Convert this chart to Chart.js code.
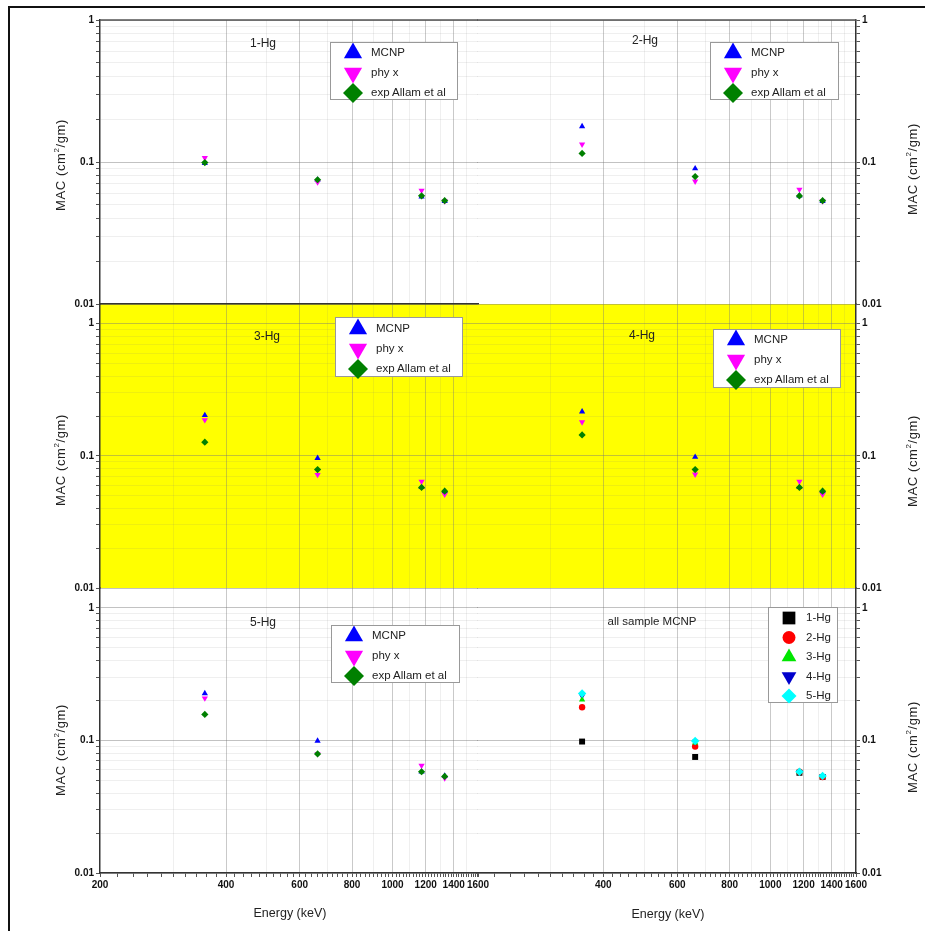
<!DOCTYPE html>
<html>
<head>
<meta charset="utf-8">
<title>MAC vs Energy - Hg samples</title>
<script src="https://cdn.jsdelivr.net/npm/chart.js@4.4.1/dist/chart.umd.min.js"></script>
<style>
  html, body { margin: 0; background: #fff; }
  #fig { position: relative; width: 925px; height: 931px; overflow: hidden;
         font-family: 'Liberation Sans', Arial, sans-serif; color: #222; }
  #fig canvas.panel { position: absolute; }
  .frame-top { position: absolute; left: 8px; top: 6px; width: 917px; height: 2px; background: #111; }
  .frame-left { position: absolute; left: 8px; top: 6px; width: 2px; height: 925px; background: #111; }
  .txt { position: absolute; z-index: 5; white-space: nowrap; transform: translate(-50%, -50%); }
  .ytitle { position: absolute; z-index: 5; white-space: nowrap; font-size: 13px; letter-spacing: 0.6px;
            transform: translate(-50%, -50%) rotate(-90deg); }
  .ytitle sup { font-size: 8px; }
  .leg { position: absolute; z-index: 6; background: #fff; border: 1px solid #999; box-sizing: border-box; }
  .leg canvas { position: absolute; left: 0; top: 0; }
  .leg span { position: absolute; font-size: 11.5px; line-height: 1; transform: translateY(-50%); white-space: nowrap; }
</style>
</head>
<body>
<div id="fig">
  <div class="frame-top"></div>
  <div class="frame-left"></div>
</div>
<script>
// gamma energies (keV)
const energies = [356, 662, 1173, 1332];
const sampleNames = ['1-Hg', '2-Hg', '3-Hg', '4-Hg', '5-Hg'];
const seriesNames = ['MCNP', 'phy x', 'exp Allam et al'];

// MAC (cm2/gm), one row per sample
const mcnpValues = [
  [0.098, 0.075, 0.057, 0.053],
  [0.178, 0.090, 0.058, 0.053],
  [0.203, 0.096, 0.058, 0.054],
  [0.216, 0.098, 0.058, 0.054],
  [0.226, 0.099, 0.058, 0.054]
];
const phyxValues = [
  [0.107, 0.072, 0.063, 0.053],
  [0.133, 0.073, 0.064, 0.053],
  [0.187, 0.072, 0.064, 0.051],
  [0.180, 0.0725, 0.064, 0.051],
  [0.208, 0.079, 0.0645, 0.052]
];
const expValues = [
  [0.099, 0.075, 0.0578, 0.0534],
  [0.115, 0.079, 0.0577, 0.0534],
  [0.127, 0.0787, 0.0576, 0.054],
  [0.144, 0.0787, 0.0576, 0.054],
  [0.157, 0.079, 0.058, 0.0535]
];

const xTickLabels = [200, 400, 600, 800, 1000, 1200, 1400, 1600];
const yTickLabels = [0.01, 0.1, 1];

const fig = document.getElementById('fig');
const FONT = "'Liberation Sans', Arial, sans-serif";

// minor ticks: every 20 keV on x, 1..9 per decade on y
const xTickValues = [];
for (let v = 200; v <= 1600; v += 20) xTickValues.push(v);
const yTickValues = [];
yTickLabels.slice(0, -1).forEach(d => { for (let k = 1; k <= 9; k++) yTickValues.push(k * d); });
yTickValues.push(yTickLabels[yTickLabels.length - 1]);

const isPow10 = v => Math.abs(Math.log10(v) - Math.round(Math.log10(v))) < 1e-6;

const cols = [{ l: 100, r: 478 }, { l: 477, r: 856 }];
const rows = [
  { t: 20, b: 304, max: 1, z: 3 },
  { t: 304, b: 588, max: 1.41, z: 1 },
  { t: 588, b: 873, max: 1.41, z: 2 }
];

const panelDecor = {
  id: 'panelDecor',
  beforeDraw(chart, args, opts) {
    if (!opts.fill) return;
    const a = chart.chartArea, ctx = chart.ctx;
    ctx.save();
    ctx.fillStyle = opts.fill;
    ctx.fillRect(a.left, a.top, a.right - a.left, a.bottom - a.top);
    ctx.restore();
  },
  afterDraw(chart, args, opts) {
    if (!opts.topLine) return;
    const a = chart.chartArea, ctx = chart.ctx;
    ctx.save();
    ctx.strokeStyle = opts.topLine;
    ctx.lineWidth = 1.5;
    ctx.beginPath();
    ctx.moveTo(a.left, a.top);
    ctx.lineTo(a.right, a.top);
    ctx.stroke();
    ctx.restore();
  }
};

function toPoints(vals) {
  return vals.map((y, i) => ({ x: energies[i], y }));
}

function makePanel(col, row, datasets, fill) {
  const c = cols[col], r = rows[row];
  const isLeft = col === 0, isBottom = row === 2;
  const AX = 50, PAD = 20, TOP = 12, AB = isBottom ? 30 : 10;
  const canvas = document.createElement('canvas');
  canvas.className = 'panel';
  canvas.width = (c.r - c.l) + AX + PAD;
  canvas.height = (r.b - r.t) + TOP + AB;
  canvas.style.left = (isLeft ? c.l - AX : c.l - PAD) + 'px';
  canvas.style.top = (r.t - TOP) + 'px';
  canvas.style.zIndex = r.z;
  fig.appendChild(canvas);

  new Chart(canvas, {
    type: 'scatter',
    data: { datasets },
    options: {
      responsive: false,
      animation: false,
      devicePixelRatio: 1,
      layout: { padding: { left: isLeft ? 0 : PAD, right: isLeft ? PAD : 0, top: TOP, bottom: 0 } },
      plugins: {
        legend: { display: false },
        tooltip: { enabled: false },
        panelDecor: { fill, topLine: row === 0 ? '#555' : null }
      },
      scales: {
        x: {
          type: 'logarithmic',
          min: 200,
          max: 1600,
          afterBuildTicks: s => { s.ticks = xTickValues.map(v => ({ value: v })); },
          afterFit: s => { s.height = AB; },
          ticks: {
            display: isBottom,
            autoSkip: false,
            maxRotation: 0,
            padding: 2,
            color: '#111',
            font: { family: FONT, size: 10, weight: 'bold' },
            callback: v => (xTickLabels.includes(v) && !(col === 1 && v === 200)) ? String(v) : ''
          },
          grid: {
            drawTicks: isBottom,
            tickLength: 4,
            tickColor: '#555',
            color: ctx => {
              const v = ctx.tick ? ctx.tick.value : 0;
              if (v === 200 || v === 1600) return 'rgba(0,0,0,0)';
              if (v % 200 === 0) return 'rgba(120,120,120,0.4)';
              if (v % 100 === 0) return 'rgba(120,120,120,0.12)';
              return 'rgba(0,0,0,0)';
            }
          },
          border: { display: row === 2 || (row === 0 && col === 0), color: '#333', width: 1.5 }
        },
        y: {
          type: 'logarithmic',
          position: isLeft ? 'left' : 'right',
          min: 0.01,
          max: r.max,
          afterBuildTicks: s => { s.ticks = yTickValues.map(v => ({ value: v })); },
          afterFit: s => { s.width = AX; },
          ticks: {
            autoSkip: false,
            padding: 2,
            color: '#111',
            font: { family: FONT, size: 10, weight: 'bold' },
            callback: v => {
              const t = yTickLabels.find(t => Math.abs(v / t - 1) < 1e-6);
              return t !== undefined ? String(t) : '';
            }
          },
          grid: {
            tickLength: 4,
            tickColor: '#555',
            color: ctx => (ctx.tick && isPow10(ctx.tick.value)) ? 'rgba(120,120,120,0.45)' : 'rgba(120,120,120,0.12)'
          },
          border: { color: '#333', width: 1.5 }
        }
      }
    },
    plugins: [panelDecor]
  });
}

// --- legends (HTML box, markers drawn with Chart.js point helper) ---
function addLegend(box, items, markerX, textX, rowY, rowH) {
  const d = document.createElement('div');
  d.className = 'leg';
  Object.assign(d.style, { left: box[0] + 'px', top: box[1] + 'px', width: box[2] + 'px', height: box[3] + 'px' });
  const cv = document.createElement('canvas');
  cv.width = box[2];
  cv.height = box[3] + 12;
  d.appendChild(cv);
  const ctx = cv.getContext('2d');
  items.forEach((it, i) => {
    const y = rowY + i * rowH;
    ctx.fillStyle = it.color;
    Chart.helpers.drawPoint(ctx, { pointStyle: it.style, rotation: it.rotation || 0, radius: it.radius, borderWidth: 0 }, markerX, y);
    const s = document.createElement('span');
    s.textContent = it.label;
    s.style.left = textX + 'px';
    s.style.top = y + 'px';
    d.appendChild(s);
  });
  fig.appendChild(d);
}

function addText(text, x, y, size) {
  const t = document.createElement('div');
  t.className = 'txt';
  t.textContent = text;
  t.style.left = x + 'px';
  t.style.top = y + 'px';
  t.style.fontSize = size + 'px';
  fig.appendChild(t);
}

function addYTitle(x, y) {
  const t = document.createElement('div');
  t.className = 'ytitle';
  t.innerHTML = 'MAC (cm<sup>2</sup>/gm)';
  t.style.left = x + 'px';
  t.style.top = y + 'px';
  fig.appendChild(t);
}

const seriesStyle = [
  { color: '#0000ff', style: 'triangle', rotation: 0, order: 3 },
  { color: '#ff00ff', style: 'triangle', rotation: 180, order: 2 },
  { color: '#008000', style: 'rectRot', rotation: 0, order: 1 }
];
const sampleStyle = [
  { color: '#000000', style: 'rect', radius: 4.2, order: 5, legR: 9 },
  { color: '#ff0000', style: 'circle', radius: 3.2, order: 4, legR: 6.5 },
  { color: '#00e600', style: 'triangle', radius: 3.6, order: 2, legR: 8.5 },
  { color: '#0000cc', style: 'triangle', radius: 3.6, rotation: 180, order: 3, legR: 8.5 },
  { color: '#00ffff', style: 'rectRot', radius: 4.2, order: 1, legR: 7.5 }
];

function sampleDatasets(i) {
  const vals = [mcnpValues[i], phyxValues[i], expValues[i]];
  return seriesNames.map((name, k) => ({
    label: name,
    data: toPoints(vals[k]),
    showLine: false,
    pointStyle: seriesStyle[k].style,
    pointRotation: seriesStyle[k].rotation,
    pointRadius: 3.6,
    pointBackgroundColor: seriesStyle[k].color,
    pointBorderColor: seriesStyle[k].color,
    pointBorderWidth: 0,
    order: seriesStyle[k].order
  }));
}

const allDatasets = sampleNames.map((name, i) => ({
  label: name,
  data: toPoints(mcnpValues[i]),
  showLine: false,
  pointStyle: sampleStyle[i].style,
  pointRotation: sampleStyle[i].rotation || 0,
  pointRadius: sampleStyle[i].radius,
  pointBackgroundColor: sampleStyle[i].color,
  pointBorderColor: sampleStyle[i].color,
  pointBorderWidth: 0,
  order: sampleStyle[i].order
}));

// panels: 1..5 samples, then all-sample MCNP
makePanel(0, 0, sampleDatasets(0), null);
makePanel(1, 0, sampleDatasets(1), null);
makePanel(0, 1, sampleDatasets(2), '#ffff00');
makePanel(1, 1, sampleDatasets(3), '#ffff00');
makePanel(0, 2, sampleDatasets(4), null);
makePanel(1, 2, allDatasets, null);

const seriesLegend = seriesNames.map((n, k) => ({
  label: n, color: seriesStyle[k].color, style: seriesStyle[k].style,
  rotation: seriesStyle[k].rotation, radius: seriesStyle[k].style === 'rectRot' ? 10 : 10.5
}));
addLegend([330, 42, 128, 58], seriesLegend, 22, 40, 10, 20);
addLegend([710, 42, 129, 58], seriesLegend, 22, 40, 10, 20);
addLegend([335, 317, 128, 60], seriesLegend, 22, 40, 11, 20);
addLegend([713, 329, 128, 59], seriesLegend, 22, 40, 10, 20);
addLegend([331, 625, 129, 58], seriesLegend, 22, 40, 10, 20);
addLegend([768, 607, 70, 96], sampleNames.map((n, i) => ({
  label: n, color: sampleStyle[i].color, style: sampleStyle[i].style,
  rotation: sampleStyle[i].rotation || 0, radius: sampleStyle[i].legR
})), 20, 37, 10, 19.5);

addText('1-Hg', 263, 43, 12);
addText('2-Hg', 645, 40, 12);
addText('3-Hg', 267, 336, 12);
addText('4-Hg', 642, 335, 12);
addText('5-Hg', 263, 622, 12);
addText('all sample MCNP', 652, 621, 11.5);
addText('Energy (keV)', 290, 913, 12.5);
addText('Energy (keV)', 668, 914, 12.5);

addYTitle(60, 165);
addYTitle(60, 460);
addYTitle(60, 750);
addYTitle(912, 169);
addYTitle(912, 461);
addYTitle(912, 747);
</script>
</body>
</html>
